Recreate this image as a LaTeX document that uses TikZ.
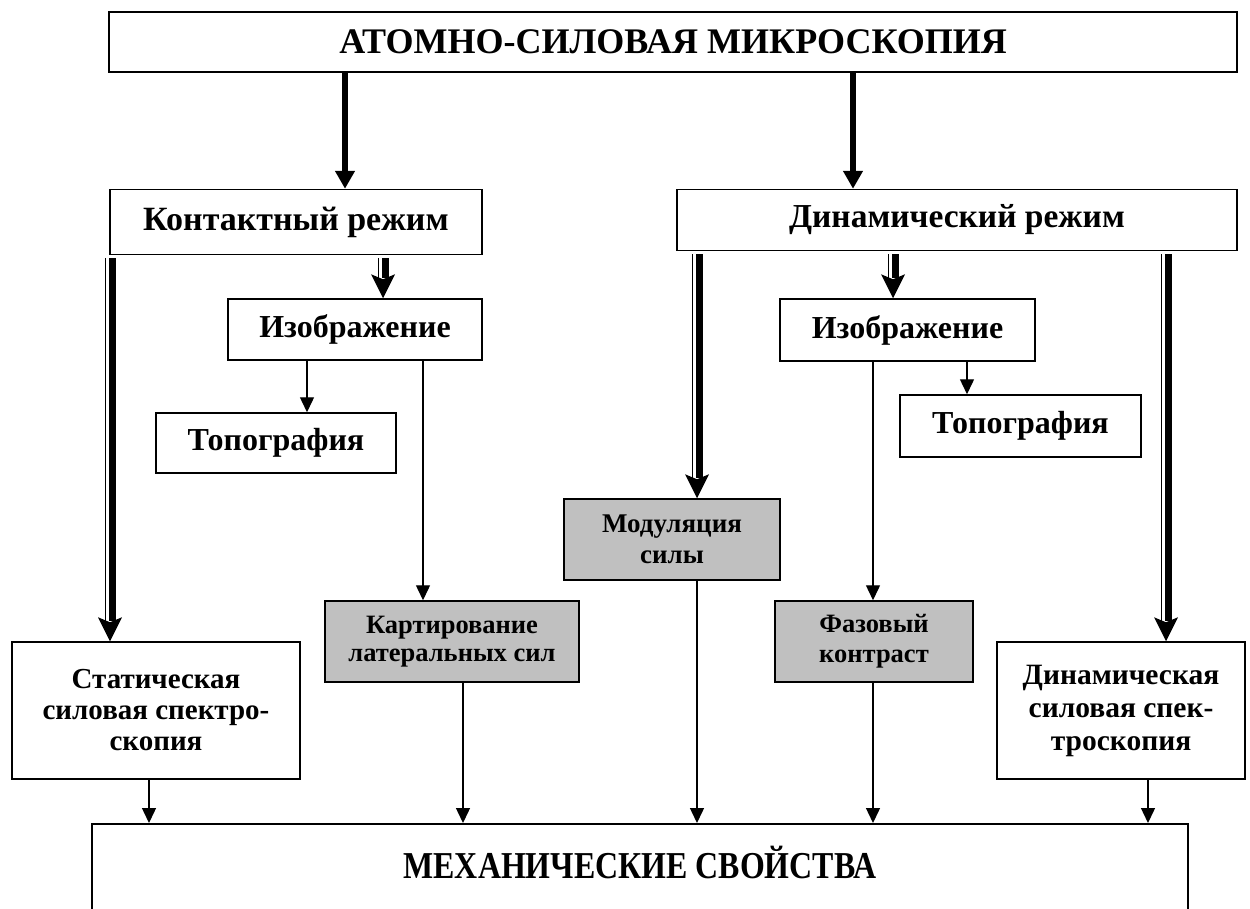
\documentclass[tikz,border=0pt]{standalone}
\usepackage{fontspec}
\usepackage{graphicx}
\setmainfont{Liberation Serif}
\usetikzlibrary{arrows.meta,calc}
\definecolor{boxgray}{RGB}{192,192,192}
\tikzset{
  box/.style={draw, line width=1.5pt, fill=white, align=center, inner sep=0pt},
  graybox/.style={box, fill=boxgray},
  thinarr/.style={line width=1.4pt, -{Triangle[length=15pt,width=14pt]}},
  thickarr/.style={line width=6pt, -{Triangle[length=18pt,width=19pt]}},
}
% double (striped) arrow: #1 source node, #2 target node, #3 x offset from target centre
\newcommand\dblarrow[3]{%
  \draw[line width=1.4pt] ($(#2.north |- #1.south)+(#3-4.5,3)$) -- ($(#2.north)+(#3-4.5,-20)$);
  \draw[line width=7pt] ($(#2.north |- #1.south)+(#3+2,3)$) -- ($(#2.north)+(#3+2,-20)$);
  \fill ($(#2.north)+(#3,0)$) -- ++(-12,-24) -- ++(12,5) -- ++(12,-5) -- cycle;
}
\begin{document}
\begin{tikzpicture}[x=1pt,y=-1pt]
\clip (0,0) rectangle (1250,908);
\fill[white] (0,0) rectangle (1250,908);

\node[box, minimum width=1128pt, minimum height=60pt, font=\fontsize{36}{40}\selectfont\bfseries] (top) at (673,42) {АТОМНО-СИЛОВАЯ МИКРОСКОПИЯ};

\node[box, minimum width=372pt, minimum height=65pt, font=\fontsize{34}{38}\selectfont\bfseries] (kont) at (296,222) {Контактный режим};
\node[box, minimum width=560pt, minimum height=61pt, font=\fontsize{33.5}{38}\selectfont\bfseries] (dyn) at (957,220) {Динамический режим};

\node[box, minimum width=254pt, minimum height=61pt, font=\fontsize{32}{36}\selectfont\bfseries] (img1) at (355,329.5) {Изображение};
\node[box, minimum width=240pt, minimum height=60pt, font=\fontsize{32}{36}\selectfont\bfseries] (topo1) at (276,443) {Топография};

\node[box, minimum width=255pt, minimum height=62pt, font=\fontsize{32}{36}\selectfont\bfseries] (img2) at (907.5,330) {Изображение};
\node[box, minimum width=241pt, minimum height=62pt, font=\fontsize{32}{36}\selectfont\bfseries] (topo2) at (1020.5,426) {Топография};

\node[graybox, minimum width=216pt, minimum height=81pt, font=\fontsize{27}{31}\selectfont\bfseries] (mod) at (672,539.5) {Модуляция\\силы};
\node[graybox, minimum width=254pt, minimum height=81pt, font=\fontsize{26.5}{28}\selectfont\bfseries] (kart) at (452,641.5) {Картирование\\латеральных сил};
\node[graybox, minimum width=198pt, minimum height=81pt, font=\fontsize{26.5}{30}\selectfont\bfseries] (faz) at (874,641.5) {Фазовый\\контраст};

\node[box, minimum width=288pt, minimum height=137pt, font=\fontsize{29}{31}\selectfont\bfseries] (stat) at (156,710.5) {Статическая\\силовая спектро-\\скопия};
\node[box, minimum width=248pt, minimum height=137pt, font=\fontsize{29.5}{33}\selectfont\bfseries] (dspec) at (1121,710.5) {Динамическая\\силовая спек-\\троскопия};

\node[box, minimum width=1096pt, minimum height=160pt, anchor=north west] (mech) at (91,823) {};
\node[font=\fontsize{38}{40}\selectfont\bfseries, inner sep=0pt] (mechtext) at (640,862) {\scalebox{0.84}[1]{МЕХАНИЧЕСКИЕ СВОЙСТВА}};

% thick arrows from the title
\draw[thickarr] ($(kont.north |- top.south)+(49,0)$) -- ($(kont.north)+(49,0)$);
\draw[thickarr] ($(dyn.north |- top.south)+(-104,0)$) -- ($(dyn.north)+(-104,0)$);

% double arrows
\dblarrow{kont}{stat}{-46}
\dblarrow{kont}{img1}{28}
\dblarrow{dyn}{mod}{25}
\dblarrow{dyn}{img2}{-14.5}
\dblarrow{dyn}{dspec}{45}

% thin arrows
\draw[thinarr] ($(topo1.north |- img1.south)+(31,0)$) -- ($(topo1.north)+(31,0)$);
\draw[thinarr] ($(kart.north |- img1.south)+(-29,0)$) -- ($(kart.north)+(-29,0)$);
\draw[thinarr] ($(faz.north |- img2.south)+(-1,0)$) -- ($(faz.north)+(-1,0)$);
\draw[thinarr] ($(topo2.north |- img2.south)+(-53.5,0)$) -- ($(topo2.north)+(-53.5,0)$);

\draw[thinarr] ($(stat.south)+(-7,0)$) -- ($(mech.north -| stat.south)+(-7,0)$);
\draw[thinarr] ($(kart.south)+(11,0)$) -- ($(mech.north -| kart.south)+(11,0)$);
\draw[thinarr] ($(mod.south)+(25,0)$) -- ($(mech.north -| mod.south)+(25,0)$);
\draw[thinarr] ($(faz.south)+(-1,0)$) -- ($(mech.north -| faz.south)+(-1,0)$);
\draw[thinarr] ($(dspec.south)+(27,0)$) -- ($(mech.north -| dspec.south)+(27,0)$);
\end{tikzpicture}
\end{document}
